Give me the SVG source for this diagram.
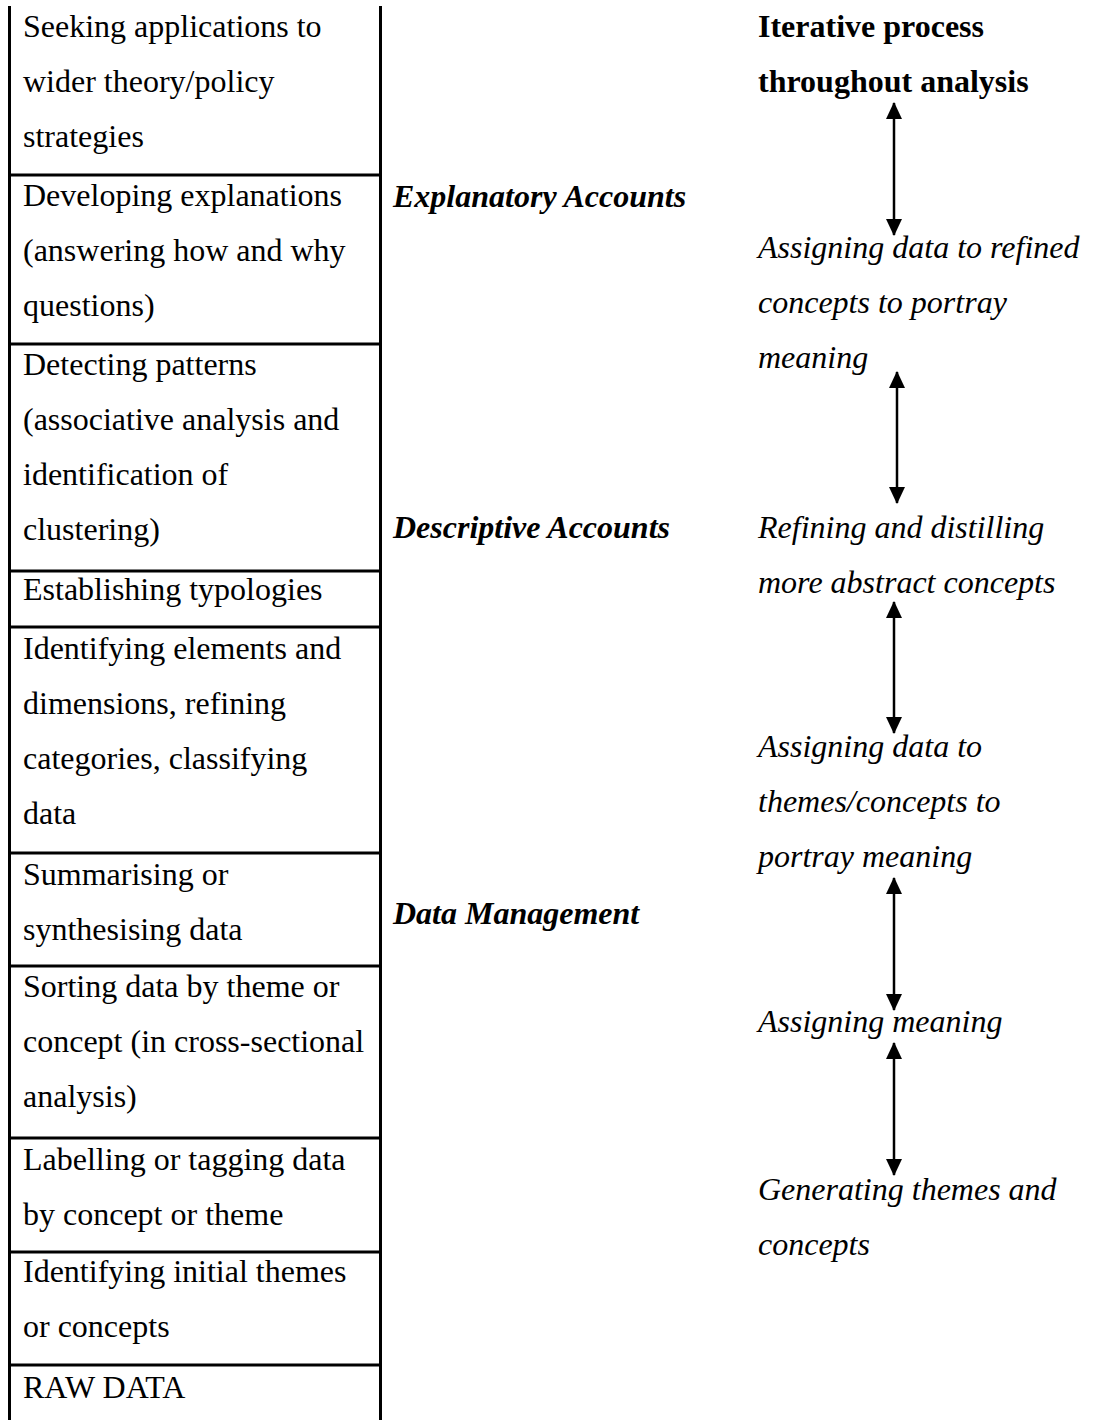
<svg xmlns="http://www.w3.org/2000/svg" width="1093" height="1420" viewBox="0 0 1093 1420">
<style>
  text { font-family: "Liberation Serif", "Times New Roman", serif; font-size: 32px; fill: #000; }
  .box { font-style: normal; }
  .phase { font-weight: bold; font-style: italic; }
  .step { font-style: italic; }
  .head { font-weight: bold; }
  .rule { stroke: #000; stroke-width: 3; fill: none; }
  .arrow { stroke: #000; stroke-width: 2.5; fill: none; marker-start: url(#ah); marker-end: url(#ah); }
</style>
<defs>
  <marker id="ah" viewBox="0 0 17 16" refX="16" refY="8" markerWidth="17" markerHeight="16" markerUnits="userSpaceOnUse" orient="auto-start-reverse">
    <path d="M0,0 L17,8 L0,16 Z" fill="#000"/>
  </marker>
</defs>
<rect width="1093" height="1420" fill="#fff"/>

<g id="table-frame">
  <line class="rule" x1="9.5" y1="6" x2="9.5" y2="1420"/>
  <line class="rule" x1="380.5" y1="6" x2="380.5" y2="1420"/>
  <line class="rule" x1="8" y1="175" x2="382" y2="175"/>
  <line class="rule" x1="8" y1="344" x2="382" y2="344"/>
  <line class="rule" x1="8" y1="571" x2="382" y2="571"/>
  <line class="rule" x1="8" y1="627" x2="382" y2="627"/>
  <line class="rule" x1="8" y1="853" x2="382" y2="853"/>
  <line class="rule" x1="8" y1="966" x2="382" y2="966"/>
  <line class="rule" x1="8" y1="1138" x2="382" y2="1138"/>
  <line class="rule" x1="8" y1="1252" x2="382" y2="1252"/>
  <line class="rule" x1="8" y1="1365" x2="382" y2="1365"/>
</g>

<g id="box-seeking"><text class="box" x="23" y="37">Seeking applications to</text><text class="box" x="23" y="92">wider theory/policy</text><text class="box" x="23" y="147">strategies</text></g>
<g id="box-developing"><text class="box" x="23" y="206">Developing explanations</text><text class="box" x="23" y="261">(answering how and why</text><text class="box" x="23" y="316">questions)</text></g>
<g id="box-detecting"><text class="box" x="23" y="375">Detecting patterns</text><text class="box" x="23" y="430">(associative analysis and</text><text class="box" x="23" y="485">identification of</text><text class="box" x="23" y="540">clustering)</text></g>
<g id="box-typologies"><text class="box" x="23" y="600">Establishing typologies</text></g>
<g id="box-elements"><text class="box" x="23" y="659">Identifying elements and</text><text class="box" x="23" y="714">dimensions, refining</text><text class="box" x="23" y="769">categories, classifying</text><text class="box" x="23" y="824">data</text></g>
<g id="box-summarising"><text class="box" x="23" y="885">Summarising or</text><text class="box" x="23" y="940">synthesising data</text></g>
<g id="box-sorting"><text class="box" x="23" y="997">Sorting data by theme or</text><text class="box" x="23" y="1052">concept (in cross-sectional</text><text class="box" x="23" y="1107">analysis)</text></g>
<g id="box-labelling"><text class="box" x="23" y="1170">Labelling or tagging data</text><text class="box" x="23" y="1225">by concept or theme</text></g>
<g id="box-initial"><text class="box" x="23" y="1282">Identifying initial themes</text><text class="box" x="23" y="1337">or concepts</text></g>
<g id="box-raw"><text class="box" x="23" y="1398">RAW DATA</text></g>

<g id="phase-explanatory"><text class="phase" x="393" y="207">Explanatory Accounts</text></g>
<g id="phase-descriptive"><text class="phase" x="393" y="538">Descriptive Accounts</text></g>
<g id="phase-management"><text class="phase" x="393" y="924">Data Management</text></g>

<g id="step-iterative"><text class="head" x="758" y="37">Iterative process</text><text class="head" x="758" y="92">throughout analysis</text></g>
<g id="step-refined"><text class="step" x="758" y="258">Assigning data to refined</text><text class="step" x="758" y="313">concepts to portray</text><text class="step" x="758" y="368">meaning</text></g>
<g id="step-refining"><text class="step" x="758" y="538">Refining and distilling</text><text class="step" x="758" y="593">more abstract concepts</text></g>
<g id="step-themes"><text class="step" x="758" y="757">Assigning data to</text><text class="step" x="758" y="812">themes/concepts to</text><text class="step" x="758" y="867">portray meaning</text></g>
<g id="step-meaning"><text class="step" x="758" y="1032">Assigning meaning</text></g>
<g id="step-generating"><text class="step" x="758" y="1200">Generating themes and</text><text class="step" x="758" y="1255">concepts</text></g>

<g id="connectors">
  <line class="arrow" x1="894" y1="103" x2="894" y2="235"/>
  <line class="arrow" x1="897" y1="372" x2="897" y2="503"/>
  <line class="arrow" x1="894" y1="602" x2="894" y2="733"/>
  <line class="arrow" x1="894" y1="878" x2="894" y2="1010"/>
  <line class="arrow" x1="894" y1="1043" x2="894" y2="1175"/>
</g>
</svg>
